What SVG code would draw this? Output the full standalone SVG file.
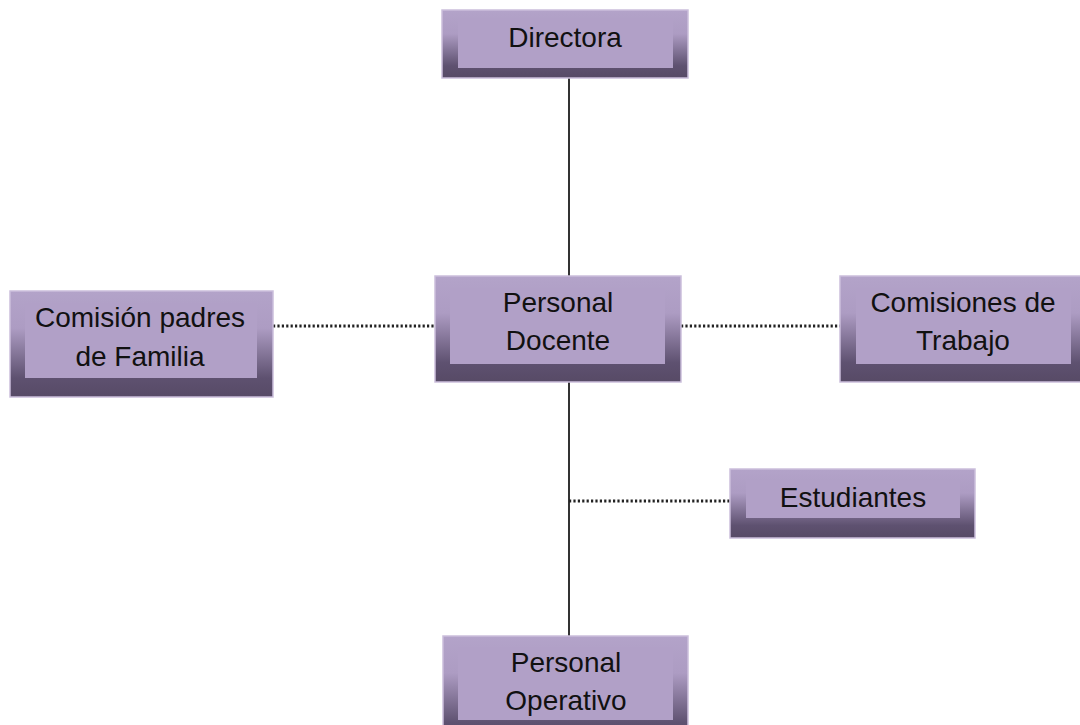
<svg xmlns="http://www.w3.org/2000/svg" width="1080" height="725" viewBox="0 0 1080 725">
<defs>
<linearGradient id="bev" x1="0" y1="0" x2="0" y2="1">
<stop offset="0" stop-color="#b3a3c9"/>
<stop offset="0.35" stop-color="#ad9cc3"/>
<stop offset="0.82" stop-color="#5e5170"/>
<stop offset="1" stop-color="#574a66"/>
</linearGradient>
</defs>
<style>
.outer{fill:url(#bev);stroke:#cbbfdc;stroke-width:1.5}
.inner{fill:#b1a0c7}
.t{font-family:"Liberation Sans",Arial,sans-serif;font-size:28px;fill:#111;text-anchor:middle}
.solid{stroke:#333;stroke-width:2;fill:none}
.dot{stroke:#222;stroke-width:3;stroke-dasharray:2.2 2.2;fill:none}
</style>
<rect width="1080" height="725" fill="#fff"/>
<g id="connectors">
<line class="solid" x1="569" y1="78" x2="569" y2="276"/>
<line class="solid" x1="569" y1="382" x2="569" y2="636"/>
<line class="dot" x1="273" y1="326" x2="435" y2="326"/>
<line class="dot" x1="681" y1="326" x2="840" y2="326"/>
<line class="dot" x1="569" y1="501" x2="730" y2="501"/>
</g>
<g id="directora">
<rect class="outer" x="442" y="10" width="246" height="68"/>
<rect class="inner" x="458" y="18" width="215" height="50"/>
<text class="t" x="565" y="47">Directora</text>
</g>
<g id="personal-docente">
<rect class="outer" x="435" y="276" width="246" height="106"/>
<rect class="inner" x="450" y="288" width="215" height="76"/>
<text class="t" x="558" y="312">Personal</text>
<text class="t" x="558" y="350">Docente</text>
</g>
<g id="comision-padres">
<rect class="outer" x="10" y="291" width="263" height="106"/>
<rect class="inner" x="25" y="303" width="232" height="75"/>
<text class="t" x="140" y="327">Comisión padres</text>
<text class="t" x="140" y="366">de Familia</text>
</g>
<g id="comisiones-trabajo">
<rect class="outer" x="840" y="276" width="247" height="106"/>
<rect class="inner" x="856" y="288" width="215" height="76"/>
<text class="t" x="963" y="312">Comisiones de</text>
<text class="t" x="963" y="350">Trabajo</text>
</g>
<g id="estudiantes">
<rect class="outer" x="730" y="469" width="245" height="69"/>
<rect class="inner" x="746" y="480" width="214" height="38"/>
<text class="t" x="853" y="507">Estudiantes</text>
</g>
<g id="personal-operativo">
<rect class="outer" x="443" y="636" width="245" height="106"/>
<rect class="inner" x="458" y="647" width="215" height="73"/>
<text class="t" x="566" y="672">Personal</text>
<text class="t" x="566" y="710">Operativo</text>
</g>
</svg>
